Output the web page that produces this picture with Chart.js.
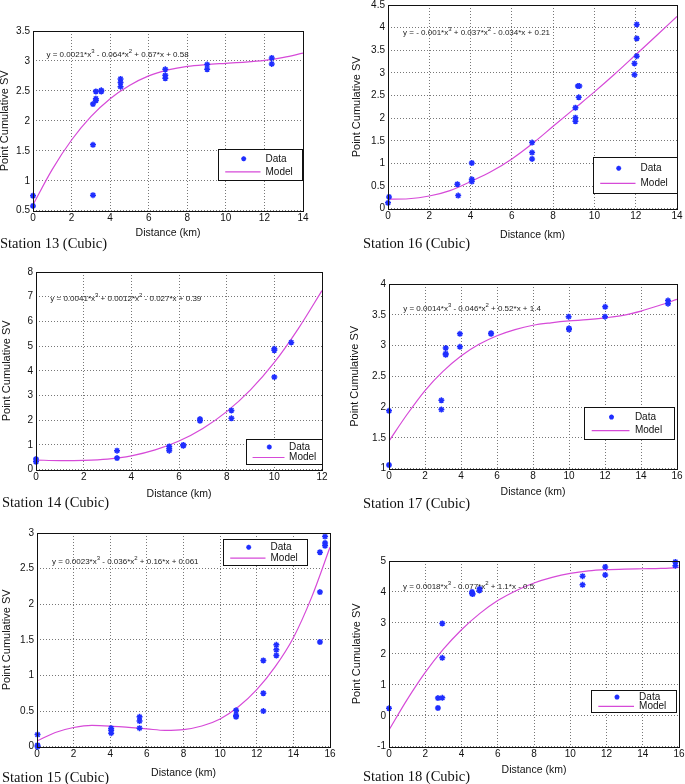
<!DOCTYPE html>
<html><head><meta charset="utf-8">
<script src="https://cdn.jsdelivr.net/npm/chart.js@4/dist/chart.umd.min.js"></script>
<style>
html,body{margin:0;padding:0;background:#fff;width:685px;height:784px;overflow:hidden;position:relative}
.panel{position:absolute}
.cap{position:absolute;font-family:"Liberation Serif","Times New Roman",serif;font-size:14.5px;color:#111;white-space:nowrap;line-height:18px}
</style></head><body>
<script>
// ---------- data ----------
const st13X = [0,0,3.11,3.11,3.11,3.26,3.26,3.26,3.54,3.54,4.54,4.54,4.54,6.86,6.86,6.86,9.03,9.03,12.38,12.38];
const st13Y = [0.75,0.58,0.76,1.6,2.28,2.34,2.37,2.49,2.51,2.49,2.7,2.64,2.57,2.86,2.76,2.71,2.94,2.86,3.05,2.95];
const model13X = [0,1,2,3,4,5,6,7,8,9,10,11,12,13,14];
const model13Y = [0.6,1.19,1.68,2.07,2.37,2.59,2.75,2.85,2.91,2.94,2.96,2.98,3.01,3.06,3.13];

const st16X = [0,0.05,3.36,3.4,4.06,4.06,4.06,6.98,6.98,6.98,9.08,9.08,9.08,9.2,9.27,9.24,11.94,11.94,12.05,12.05,12.05];
const st16Y = [0.13,0.26,0.54,0.29,1.01,0.65,0.6,1.46,1.24,1.1,2.23,2.01,1.93,2.71,2.71,2.46,3.21,2.96,4.07,3.76,3.37];
const model16X = [0,1,2,3,4,5,6,7,8,9,10,11,12,13,14];
const model16Y = [0.21,0.22,0.28,0.4,0.6,0.82,1.1,1.44,1.82,2.2,2.58,2.98,3.4,3.82,4.25];

const st14X = [0,0,3.4,3.4,5.59,5.59,5.59,6.18,6.18,6.88,6.88,8.2,8.2,10.0,10.0,10.0,10.71];
const st14Y = [0.43,0.32,0.77,0.47,0.94,0.85,0.77,1.0,0.97,2.05,1.98,2.4,2.08,4.89,4.83,3.75,5.15];
const model14X = [0,1,2,3,4,5,6,7,8,9,10,11,12];
const model14Y = [0.39,0.37,0.38,0.43,0.56,0.8,1.16,1.67,2.35,3.23,4.34,5.7,7.25];

const st17X = [0,0,2.91,2.91,3.15,3.15,3.15,3.94,3.94,5.67,5.67,9.98,10.0,10.0,12.01,12.0,15.5,15.5];
const st17Y = [1.94,1.06,2.11,1.96,2.96,2.87,2.85,3.19,2.98,3.2,3.19,3.47,3.28,3.26,3.63,3.47,3.73,3.68];
const model17X = [0,1,2,3,4,5,6,7,8,9,10,11,12,13,14,15,16];
const model17Y = [1.45,1.88,2.27,2.58,2.83,3.02,3.16,3.26,3.33,3.37,3.4,3.42,3.45,3.49,3.56,3.65,3.75];

const st15X = [0.03,0.03,0.03,4.05,4.05,4.05,5.6,5.6,5.6,10.87,10.87,10.87,12.36,12.36,12.36,13.07,13.07,13.07,15.45,15.45,15.45,15.73,15.73,15.73];
const st15Y = [0.17,0.02,0.0,0.26,0.23,0.19,0.42,0.36,0.26,0.51,0.44,0.42,1.21,0.75,0.5,1.43,1.36,1.28,2.73,2.17,1.47,2.95,2.86,2.82];
const model15X = [0,1,2,3,4,5,6,7,8,9,10,11,12,13,14,15,16];
const model15Y = [0.08,0.2,0.27,0.3,0.29,0.27,0.25,0.23,0.24,0.29,0.39,0.56,0.8,1.12,1.53,2.1,2.8];

const st18X = [0,2.7,2.7,2.94,2.94,2.94,4.58,4.58,4.62,4.99,5.0,10.68,10.68,11.93,11.93,15.8,15.8];
const st18Y = [0.24,0.25,0.57,0.58,2.98,1.87,3.95,4.0,3.93,4.05,4.1,4.51,4.23,4.81,4.55,4.97,4.85];
const model18X = [0,1,2,3,4,5,6,7,8,9,10,11,12,13,14,15,16];
const model18Y = [-0.46,0.52,1.4,2.15,2.78,3.3,3.72,4.04,4.29,4.47,4.6,4.68,4.72,4.74,4.75,4.76,4.79];

// tick labels
const xTicks14 = [0,2,4,6,8,10,12,14];
const xTicks12 = [0,2,4,6,8,10,12];
const xTicks16 = [0,2,4,6,8,10,12,14,16];
const yTicks13 = [0.5,1,1.5,2,2.5,3,3.5];
const yTicks16 = [0,0.5,1,1.5,2,2.5,3,3.5,4,4.5];
const yTicks14 = [0,1,2,3,4,5,6,7,8];
const yTicks17 = [1,1.5,2,2.5,3,3.5,4];
const yTicks15 = [0,0.5,1,1.5,2,2.5,3];
const yTicks18 = [-1,0,1,2,3,4,5];

const captions = ['Station 13 (Cubic)','Station 16 (Cubic)','Station 14 (Cubic)','Station 17 (Cubic)','Station 15 (Cubic)','Station 18 (Cubic)'];
const equations = [
  'y = 0.0021*x^3 - 0.064*x^2 + 0.67*x + 0.58',
  'y = - 0.001*x^3 + 0.037*x^2 - 0.034*x + 0.21',
  'y = 0.0041*x^3 + 0.0012*x^2 - 0.027*x + 0.39',
  'y = 0.0014*x^3 - 0.046*x^2 + 0.52*x + 1.4',
  'y = 0.0023*x^3 - 0.036*x^2 + 0.16*x + 0.061',
  'y = 0.0018*x^3 - 0.077*x^2 + 1.1*x - 0.5'
];

// ---------- layout ----------
const panels = [
  {x:st13X,y:st13Y,mx:model13X,my:model13Y,xt:xTicks14,yt:yTicks13,L:33,T:31,R:303,B:211,yOff:28,xOff:22,eqAt:[0.7,3.1],leg:[185,118,84,31],cap:[0,234]},
  {x:st16X,y:st16Y,mx:model16X,my:model16Y,xt:xTicks14,yt:yTicks16,L:388,T:5,R:677,B:209,yOff:31.5,xOff:26,eqAt:[0.73,3.89],leg:[205,152,84,36],cap:[363,234]},
  {x:st14X,y:st14Y,mx:model14X,my:model14Y,xt:xTicks12,yt:yTicks14,L:36,T:272,R:322,B:470,yOff:29,xOff:24,eqAt:[0.6,6.91],leg:[210,167,76,25],cap:[2,493]},
  {x:st17X,y:st17Y,mx:model17X,my:model17Y,xt:xTicks16,yt:yTicks17,L:389,T:284,R:677,B:469,yOff:34,xOff:23,eqAt:[0.79,3.59],leg:[195,123,90,32],cap:[363,494]},
  {x:st15X,y:st15Y,mx:model15X,my:model15Y,xt:xTicks16,yt:yTicks15,L:37,T:533,R:330,B:747,yOff:30,xOff:26,eqAt:[0.82,2.59],leg:[186,6,84,26],cap:[2,768]},
  {x:st18X,y:st18Y,mx:model18X,my:model18Y,xt:xTicks16,yt:yTicks18,L:389,T:561,R:679,B:747,yOff:32.6,xOff:23,eqAt:[0.77,4.16],leg:[202,129,85,22],cap:[363,767]}
];

const BLUE = '#1f2eff', MAG = '#d64ad8', FONT = '"Liberation Sans", Arial, sans-serif';

function drawStar(ctx, x, y, r){
  ctx.save(); ctx.strokeStyle = BLUE; ctx.lineWidth = 1.5; ctx.beginPath();
  ctx.moveTo(x-r,y); ctx.lineTo(x+r,y); ctx.moveTo(x,y-r); ctx.lineTo(x,y+r);
  const d = r*0.7;
  ctx.moveTo(x-d,y-d); ctx.lineTo(x+d,y+d); ctx.moveTo(x-d,y+d); ctx.lineTo(x+d,y-d);
  ctx.stroke(); ctx.restore();
}

const extrasPlugin = {
  id:'extras',
  afterDraw(chart){
    const p = chart.options.plugins.extras;
    const ctx = chart.ctx, a = chart.chartArea;
    ctx.save();
    // box
    ctx.strokeStyle = '#111'; ctx.lineWidth = 1;
    ctx.strokeRect(Math.round(a.left)+0.5, Math.round(a.top)+0.5, Math.round(a.right-a.left), Math.round(a.bottom-a.top));
    // equation
    const xs = chart.scales.x, ys = chart.scales.y;
    let cx = xs.getPixelForValue(p.eqAt[0]);
    const cy = ys.getPixelForValue(p.eqAt[1]);
    ctx.fillStyle = '#222'; ctx.textBaseline = 'middle'; ctx.textAlign = 'left';
    const parts = p.eq.split(/\^(\d)/);
    parts.forEach((t,i)=>{
      if(i%2===0){ ctx.font = '8px '+FONT; ctx.fillText(t,cx,cy); cx += ctx.measureText(t).width; }
      else { ctx.font = '6px '+FONT; ctx.fillText(t,cx,cy-3.5); cx += ctx.measureText(t).width; }
    });
    // legend
    const [lx,ly,lw,lh] = p.leg;
    const bx = Math.round(a.left+lx)+0.5, by = Math.round(a.top+ly)+0.5;
    ctx.fillStyle = '#fff'; ctx.fillRect(bx,by,lw,lh);
    ctx.strokeStyle = '#111'; ctx.lineWidth = 1; ctx.strokeRect(bx,by,lw,lh);
    const r1 = by + lh*0.3, r2 = by + lh*0.72;
    drawStar(ctx, bx + lw*0.3, r1, 2.5);
    ctx.strokeStyle = MAG; ctx.lineWidth = 1.2; ctx.beginPath();
    ctx.moveTo(bx + lw*0.08, r2); ctx.lineTo(bx + lw*0.5, r2); ctx.stroke();
    ctx.fillStyle = '#111'; ctx.font = '10px '+FONT; ctx.textBaseline='middle';
    ctx.fillText('Data', bx + lw*0.56, r1);
    ctx.fillText('Model', bx + lw*0.56, r2);
    ctx.restore();
  }
};

panels.forEach((p,i)=>{
  const yw = p.yOff + 6.6, xh = p.xOff + 6.3;
  const padTop = 8, padRight = 9;
  const cl = Math.round(p.L - yw), ct = p.T - padTop;
  const cw = Math.round(p.R - cl + padRight), chh = Math.round(p.B - ct + xh);
  const canvas = document.createElement('canvas');
  canvas.className = 'panel';
  canvas.style.left = cl+'px'; canvas.style.top = ct+'px';
  canvas.width = cw; canvas.height = chh;
  canvas.style.width = cw+'px'; canvas.style.height = chh+'px';
  document.body.appendChild(canvas);
  const ywFit = p.L - cl;
  const cap = document.createElement('div');
  cap.className = 'cap'; cap.textContent = captions[i];
  cap.style.left = p.cap[0]+'px'; cap.style.top = p.cap[1]+'px';
  document.body.appendChild(cap);

  const tickFont = {family:FONT, size:10};
  new Chart(canvas, {
    type:'scatter',
    data:{datasets:[
      {label:'Data', data:p.x.map((v,k)=>({x:v,y:p.y[k]})), pointStyle:'star', pointRadius:3, borderWidth:1.5,
       borderColor:BLUE, backgroundColor:BLUE, showLine:false, order:1, clip:false},
      {label:'Model', data:p.mx.map((v,k)=>({x:v,y:p.my[k]})), showLine:true, pointRadius:0, borderColor:MAG,
       borderWidth:1.2, cubicInterpolationMode:'monotone', fill:false, order:2}
    ]},
    options:{
      responsive:false, animation:false, events:[],
      layout:{padding:{top:padTop,right:padRight,left:0,bottom:0}},
      plugins:{legend:{display:false}, tooltip:{enabled:false},
        extras:{eq:equations[i], eqAt:p.eqAt, leg:p.leg}},
      scales:{
        x:{type:'linear', min:p.xt[0], max:p.xt[p.xt.length-1],
          afterBuildTicks:s=>{s.ticks = p.xt.map(v=>({value:v}));},
          afterFit:s=>{s.height = xh; s.paddingLeft = 0; s.paddingRight = 0;},
          ticks:{padding:2, color:'#111', font:tickFont, maxRotation:0, autoSkip:false, callback:v=>String(v)},
          grid:{color:'#777', lineWidth:1, drawTicks:false},
          border:{display:false, dash:[1,2]},
          title:{display:true, text:'Distance (km)', padding:0, color:'#111', font:{family:FONT, size:10.5}}},
        y:{type:'linear', min:p.yt[0], max:p.yt[p.yt.length-1],
          afterBuildTicks:s=>{s.ticks = p.yt.map(v=>({value:v}));},
          afterFit:s=>{s.width = ywFit; s.paddingTop = 0; s.paddingBottom = 0;},
          ticks:{padding:3, color:'#111', font:tickFont, autoSkip:false, callback:v=>String(v)},
          grid:{color:'#777', lineWidth:1, drawTicks:false},
          border:{display:false, dash:[1,2]},
          title:{display:true, text:'Point Cumulative SV', padding:0, color:'#111', font:{family:FONT, size:11}}}
      }
    },
    plugins:[extrasPlugin]
  });
});
</script>
</body></html>
